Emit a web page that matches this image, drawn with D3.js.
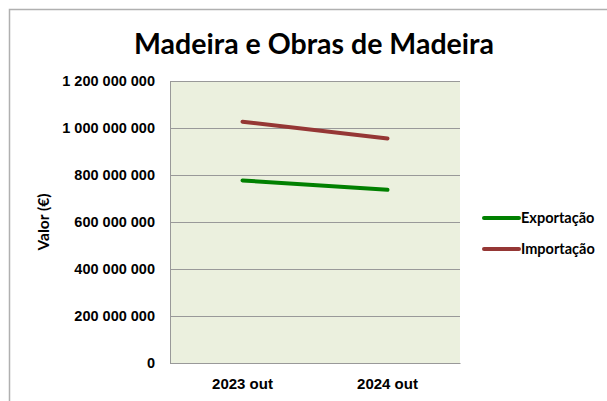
<html lang="pt">
<head>
<meta charset="utf-8">
<title>Madeira e Obras de Madeira</title>
<script src="https://d3js.org/d3.v7.min.js"></script>
<style>
  body { margin: 0; background: #fff; font-family: Lato, "Open Sans", sans-serif; }
  .tick text { font-size: 14.5px; font-weight: bold; fill: #000; }
</style>
</head>
<body>
<div class="main"></div>
<script>
var categories = ["2023 out", "2024 out"]
var exportacao = [777000000, 737000000]
var importacao = [1027000000, 955000000]
var yTicks = [0, 200000000, 400000000, 600000000, 800000000, 1000000000, 1200000000]

var width = 607, height = 401
var plot = {left: 170, right: 460, top: 81, bottom: 363}

var svg = d3.select(".main").append("svg")
  .attr("width", width).attr("height", height)

// outer chart frame
svg.append("path")
  .attr("d", "M9.5," + height + "V9.5H" + width)
  .attr("fill", "none").attr("stroke", "#b0b0b0").attr("stroke-width", 1.5)

svg.append("text")
  .attr("x", 314).attr("y", 54)
  .attr("text-anchor", "middle")
  .style("font-size", "28.5px").style("font-weight", "bold")
  .text("Madeira e Obras de Madeira")

var x = d3.scaleBand().domain(categories).range([plot.left, plot.right])
var y = d3.scaleLinear().domain([0, 1200000000]).range([plot.bottom, plot.top])

svg.append("rect")
  .attr("x", plot.left).attr("y", plot.top)
  .attr("width", plot.right - plot.left).attr("height", plot.bottom - plot.top)
  .attr("fill", "#ebf0de")

var fmt = function(d){ return d3.format(",")(d).replace(/,/g, " ") }

var yAxis = svg.append("g")
  .attr("transform", "translate(" + plot.left + ",0)")
  .call(d3.axisLeft(y).tickValues(yTicks).tickFormat(fmt).tickSize(0).tickPadding(15))
yAxis.select(".domain").attr("stroke", "#999")
yAxis.selectAll(".tick line")
  .attr("x2", plot.right - plot.left).attr("stroke", "#999")

var xAxis = svg.append("g")
  .attr("transform", "translate(0," + plot.bottom + ")")
  .call(d3.axisBottom(x).tickSize(0).tickPadding(15))
xAxis.select(".domain").attr("stroke", "#999")
xAxis.selectAll(".tick text").style("font-size", "15px")

svg.append("text")
  .attr("transform", "translate(49,222) rotate(-90)")
  .attr("text-anchor", "middle")
  .style("font-size", "15.5px").style("font-weight", "bold")
  .text("Valor (€)")

var series = [
  {name: "Exportação", values: exportacao, color: "#008000"},
  {name: "Importação", values: importacao, color: "#953735"}
]

var line = d3.line()
  .x(function(d, i){ return x(categories[i]) + x.bandwidth() / 2 })
  .y(function(d){ return y(d) })

svg.selectAll(".serie").data(series).enter().append("path")
  .attr("class", "serie")
  .attr("d", function(s){ return line(s.values) })
  .attr("fill", "none")
  .attr("stroke", function(s){ return s.color })
  .attr("stroke-width", 4)
  .attr("stroke-linecap", "round")

var legend = svg.selectAll(".legend").data(series).enter().append("g")
  .attr("class", "legend")
  .attr("transform", function(d, i){ return "translate(484," + (218 + i * 31) + ")" })
legend.append("line")
  .attr("x1", 0).attr("x2", 35)
  .attr("stroke", function(d){ return d.color })
  .attr("stroke-width", 4).attr("stroke-linecap", "round")
legend.append("text")
  .attr("x", 37).attr("dy", "0.35em")
  .style("font-size", "14.5px").style("font-weight", "bold")
  .text(function(d){ return d.name })
</script>
</body>
</html>
